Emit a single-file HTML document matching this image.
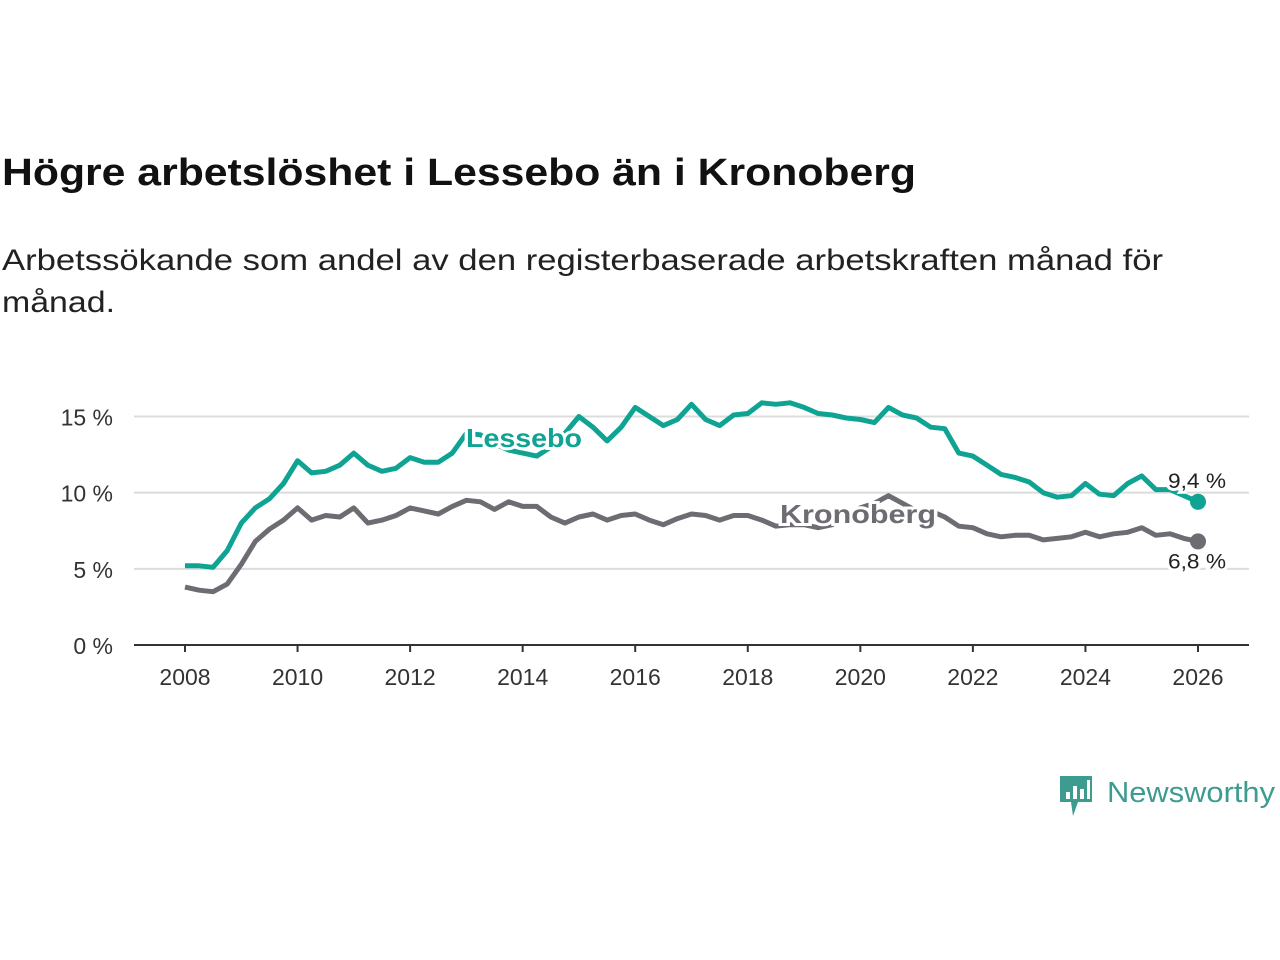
<!DOCTYPE html>
<html><head><meta charset="utf-8"><style>
body{margin:0;width:1280px;height:960px;background:#fff;font-family:"Liberation Sans",sans-serif;overflow:hidden}
</style></head><body>
<svg width="1280" height="960" style="position:absolute;left:0;top:0">
<text x="2" y="185" font-size="38" font-weight="bold" fill="#111" textLength="914" lengthAdjust="spacingAndGlyphs">Högre arbetslöshet i Lessebo än i Kronoberg</text>
<text x="2" y="270" font-size="30" fill="#222" textLength="1161" lengthAdjust="spacingAndGlyphs">Arbetssökande som andel av den registerbaserade arbetskraften månad för</text>
<text x="2" y="312" font-size="30" fill="#222" textLength="113" lengthAdjust="spacingAndGlyphs">månad.</text>
<g id="grid"></g><g id="axes"></g><g id="lines"></g><g id="labels"></g>
<g>
<path d="M1060 776 h32 v26 h-14 l-5 14 l-2 -14 h-11 z" fill="#3d9b8f"/>
<rect x="1066" y="792" width="4" height="7" fill="#fff"/><rect x="1073" y="786" width="4" height="13" fill="#fff"/><rect x="1080" y="789" width="4" height="10" fill="#fff"/><rect x="1087" y="780" width="3" height="19" fill="#fff"/>
<text x="1107" y="802" font-size="29" fill="#3d9b8f" textLength="168" lengthAdjust="spacingAndGlyphs">Newsworthy</text>
</g>
</svg>
<script>
const years=[2008,2010,2012,2014,2016,2018,2020,2022,2024,2026];
const yTicks=[0,5,10,15];
const lessebo=[5.2,5.2,5.1,6.2,8.0,9.0,9.6,10.6,12.1,11.3,11.4,11.8,12.6,11.8,11.4,11.6,12.3,12.0,12.0,12.6,13.9,
13.8,13.2,12.8,12.6,12.4,13.0,13.9,15.0,14.3,13.4,14.3,15.6,15.0,14.4,14.8,15.8,14.8,14.4,15.1,15.2,15.9,15.8,15.9,15.6,15.2,15.1,14.9,14.8,14.6,15.6,15.1,14.9,14.3,14.2,12.6,12.4,11.8,11.2,11.0,10.7,10.0,9.7,9.8,10.6,9.9,9.8,10.6,11.1,10.2,10.2,9.8,9.4];
const kronoberg=[3.8,3.6,3.5,4.0,5.3,6.8,7.6,8.2,9.0,8.2,8.5,8.4,9.0,8.0,8.2,8.5,9.0,8.8,8.6,9.1,9.5,
9.4,8.9,9.4,9.1,9.1,8.4,8.0,8.4,8.6,8.2,8.5,8.6,8.2,7.9,8.3,8.6,8.5,8.2,8.5,8.5,8.2,7.8,7.9,7.9,7.7,7.9,8.5,9.0,9.3,9.8,9.3,8.8,8.8,8.4,7.8,7.7,7.3,7.1,7.2,7.2,6.9,7.0,7.1,7.4,7.1,7.3,7.4,7.7,7.2,7.3,7.0,6.8];
const NS='http://www.w3.org/2000/svg';
const X=t=>185+(t-2008)*(1198-185)/18;
const Y=v=>645-v*(645-416.5)/15;
function mk(tag,attrs,parent,text){const e=document.createElementNS(NS,tag);for(const k in attrs)e.setAttribute(k,attrs[k]);if(text!==undefined)e.textContent=text;document.getElementById(parent).appendChild(e);return e;}
yTicks.forEach(v=>{
 if(v>0){const g=mk('line',{x1:134,x2:1249,y1:Y(v),y2:Y(v),stroke:'#dcdcdc','stroke-width':2},'grid');
 
 }
 const t=mk('text',{x:113,y:Y(v)+9,'font-size':23,'text-anchor':'end',fill:'#333'},'axes',v+' %');
 
 
});
const ax=mk('line',{x1:134,x2:1249,y1:645,y2:645,stroke:'#333','stroke-width':2},'axes');


years.forEach(y=>{
 const tk=mk('line',{x1:X(y),x2:X(y),y1:645,y2:652,stroke:'#333','stroke-width':2},'axes');
 
 
 const t=mk('text',{x:X(y),y:685,'font-size':23,'text-anchor':'middle',fill:'#333'},'axes',y);
 
 
});
function series(arr,color,name){
 const d=arr.map((v,i)=>(i?'L':'M')+X(2008+i*0.25).toFixed(1)+' '+Y(v).toFixed(1)).join(' ');
 const p=mk('path',{d:d,fill:'none',stroke:color,'stroke-width':5,'stroke-linejoin':'round'},'lines');
 
 
 const last=arr[arr.length-1];
 const c=mk('circle',{cx:X(2026),cy:Y(last),r:8,fill:color},'lines');
 
 
 return last;
}
const lL=series(lessebo,'#0fa393','lessebo');
const kL=series(kronoberg,'#6e6b73','kronoberg');
function lab(x,y,txt,attrs,name){
 const t=mk('text',Object.assign({x:x,y:y,stroke:'#fff','stroke-width':6,'paint-order':'stroke'},attrs),'labels',txt);
 
 
}
lab(466,447,'Lessebo',{'font-size':26,'font-weight':'bold',fill:'#0fa393',textLength:116,lengthAdjust:'spacingAndGlyphs'},'lessebo-label');
lab(780,523,'Kronoberg',{'font-size':26,'font-weight':'bold',fill:'#6e6b73',textLength:156,lengthAdjust:'spacingAndGlyphs'},'kronoberg-label');
lab(1168,Y(lL)-14,String(lL).replace('.',',')+' %',{'font-size':21,fill:'#222',textLength:58,lengthAdjust:'spacingAndGlyphs'},'lessebo-value-label');
lab(1168,Y(kL)+27,String(kL).replace('.',',')+' %',{'font-size':21,fill:'#222',textLength:58,lengthAdjust:'spacingAndGlyphs'},'kronoberg-value-label');
</script>
</body></html>
